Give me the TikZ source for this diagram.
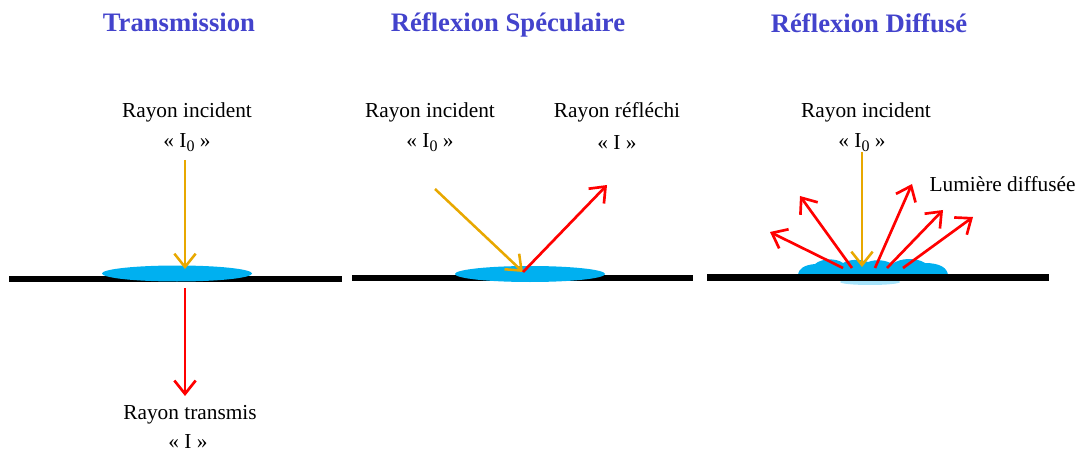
\documentclass[tikz,border=0pt]{standalone}
\usepackage{fontspec}
\setmainfont{Liberation Serif}
\usetikzlibrary{arrows.meta}
\definecolor{rtitle}{HTML}{4343CC}
\definecolor{rinc}{HTML}{E8A800}
\definecolor{rout}{HTML}{FF0000}
\definecolor{rdrop}{HTML}{00B0F0}
\newcommand{\lowidx}[1]{\raisebox{-0.4ex}{\fontsize{12}{12}\selectfont #1}}

\begin{document}
\begin{tikzpicture}[x=0.75pt, y=-0.75pt,
  title/.style={text=rtitle, font=\fontsize{20}{24}\selectfont\bfseries, anchor=base},
  lbl/.style={font=\fontsize{16}{19}\selectfont, align=center, inner sep=1pt},
  ground/.style={black, line width=5.2pt},
  inray/.style={rinc, line width=1.9pt, -{Straight Barb[length=10pt, width=16pt, line width=1.9pt]}},
  outray/.style={rout, line width=2pt, -{Straight Barb[length=10pt, width=16pt, line width=2pt]}}]
 \useasboundingbox (0,0) rectangle (1087,452);
 % titles
 \node[title] (t1) at (179,32) {Transmission};
 \node[title] (t2) at (508,32) {Réflexion Spéculaire};
 \node[title] (t3) at (869,33) {Réflexion Diffusé};
 % surfaces
 \fill[rdrop] (798,276) .. controls (798,268) and (805,265) .. (815,264)
  .. controls (822,258) and (836,258) .. (843,263) .. controls (850,259) and (860,259) .. (868,262)
  .. controls (876,259) and (886,260) .. (892,264) .. controls (900,258) and (916,257) .. (925,263)
  .. controls (940,263) and (948,268) .. (948,276) -- cycle;
 \fill[rdrop!35] (870,282) ellipse (30 and 3);
 \draw[ground] (9,279) -- (342,279);
 \draw[ground] (352,278) -- (693,278);
 \draw[ground] (707,277.5) -- (1049,277.5);
 \fill[rdrop] (177,273.5) ellipse (75 and 8);
 \fill[rdrop] (530,274) ellipse (75 and 8);
 % transmission
 \node[lbl] (inc1) at (187,112) {Rayon incident};
 \node[lbl] (inc1i) at (187,143) {« I\lowidx{0} »};
 \node[lbl] (tra1) at (190,415) {Rayon transmis};
 \node[lbl] (tra1i) at (188,442) {« I »};
 \coordinate (a1) at (185,160);
 \coordinate (h1) at (185,269);
 \coordinate (b1) at (185,288);
 \coordinate (e1) at (185,396);
 \draw[inray] (a1) -- (h1);
 \draw[outray] (b1) -- (e1);
 % specular
 \node[lbl] (inc2) at (430,112) {Rayon incident};
 \node[lbl] (inc2i) at (430,143) {« I\lowidx{0} »};
 \node[lbl] (ref2) at (617,112) {Rayon réfléchi};
 \node[lbl] (ref2i) at (617,143) {« I »};
 \coordinate (a2) at (435,189);
 \coordinate (h2) at (523,272);
 \coordinate (e2) at (607,185);
 \draw[inray] (a2) -- (h2);
 \draw[outray] (h2) -- (e2);
 % diffuse
 \node[lbl] (inc3) at (866,112) {Rayon incident};
 \node[lbl] (inc3i) at (862,143) {« I\lowidx{0} »};
 \node[lbl, anchor=west] (dif3) at (928,184) {Lumière diffusée};
 \coordinate (a3) at (862,152);
 \coordinate (h3) at (862,267);
 \foreach \n/\sx/\ex/\ey in {1/843/770/232,2/852/800/196,3/875/912/184,4/887/943/210,5/903/973/217} {
  \coordinate (s\n) at (\sx,268);
  \coordinate (d\n) at (\ex,\ey);
  \draw[outray] (s\n) -- (d\n);
 }
 \draw[inray] (a3) -- (h3);
\end{tikzpicture}
\end{document}
